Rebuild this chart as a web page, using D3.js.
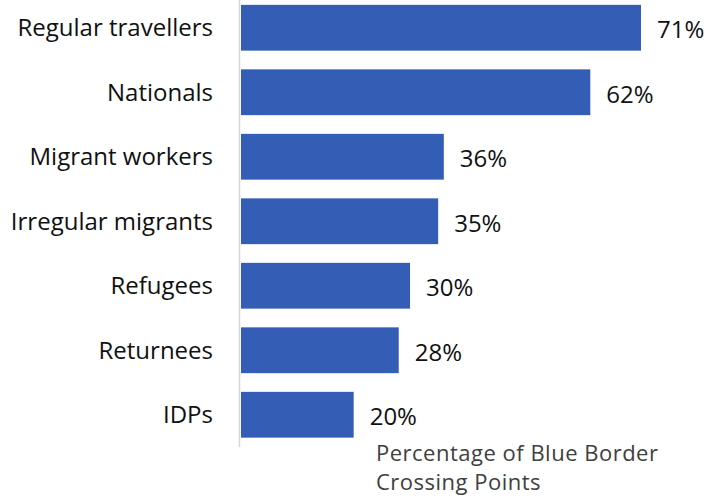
<!DOCTYPE html>
<html>
<head>
<meta charset="utf-8">
<script src="https://cdn.jsdelivr.net/npm/d3@7"></script>
<style>
  html, body { margin: 0; padding: 0; background: #fff; }
  svg { display: block; }
  text { font-family: "Open Sans", "Noto Sans", sans-serif; }
</style>
</head>
<body>
<svg id="chart" width="723" height="499"></svg>
<script>
// Share of blue border crossing points by traveller group
const categories = ["Regular travellers", "Nationals", "Migrant workers", "Irregular migrants", "Refugees", "Returnees", "IDPs"];
const values = [71, 62, 36, 35, 30, 28, 20];
const legendLines = ["Percentage of Blue Border", "Crossing Points"];

const svg = d3.select("#chart");
const x0 = 241;

const x = d3.scaleLinear().domain([0, 71]).range([x0, 641]);
const y = d3.scaleBand().domain(categories).range([-4.5, 447]).paddingInner(0.29).paddingOuter(0.145);

svg.selectAll("rect.bar")
  .data(categories)
  .join("rect")
  .attr("class", "bar")
  .attr("x", x(0))
  .attr("y", d => y(d))
  .attr("width", (d, i) => x(values[i]) - x(0))
  .attr("height", y.bandwidth())
  .attr("fill", "#345db6");

// vertical category axis line
svg.append("line")
  .attr("x1", 239.5).attr("x2", 239.5)
  .attr("y1", 0).attr("y2", 447)
  .attr("stroke", "#d6d6d6").attr("stroke-width", 1.5);

svg.selectAll("text.cat")
  .data(categories)
  .join("text")
  .attr("class", "cat")
  .attr("x", 213)
  .attr("y", d => y(d) + y.bandwidth() / 2)
  .attr("dy", "0.36em")
  .attr("text-anchor", "end")
  .attr("font-size", 24)
  .attr("fill", "#111")
  .text(d => d);

svg.selectAll("text.val")
  .data(categories)
  .join("text")
  .attr("class", "val")
  .attr("x", (d, i) => x(values[i]) + 16)
  .attr("y", d => y(d) + y.bandwidth() / 2 + 2)
  .attr("dy", "0.36em")
  .attr("font-size", 24)
  .attr("fill", "#111")
  .text((d, i) => values[i] + "%");

svg.append("text")
  .attr("x", 376)
  .attr("y", 461)
  .attr("font-size", 22)
  .attr("letter-spacing", 0.5)
  .attr("fill", "#404040")
  .selectAll("tspan")
  .data(legendLines)
  .join("tspan")
  .attr("x", 376)
  .attr("dy", (d, i) => i === 0 ? 0 : 29)
  .text(d => d);
</script>
</body>
</html>
